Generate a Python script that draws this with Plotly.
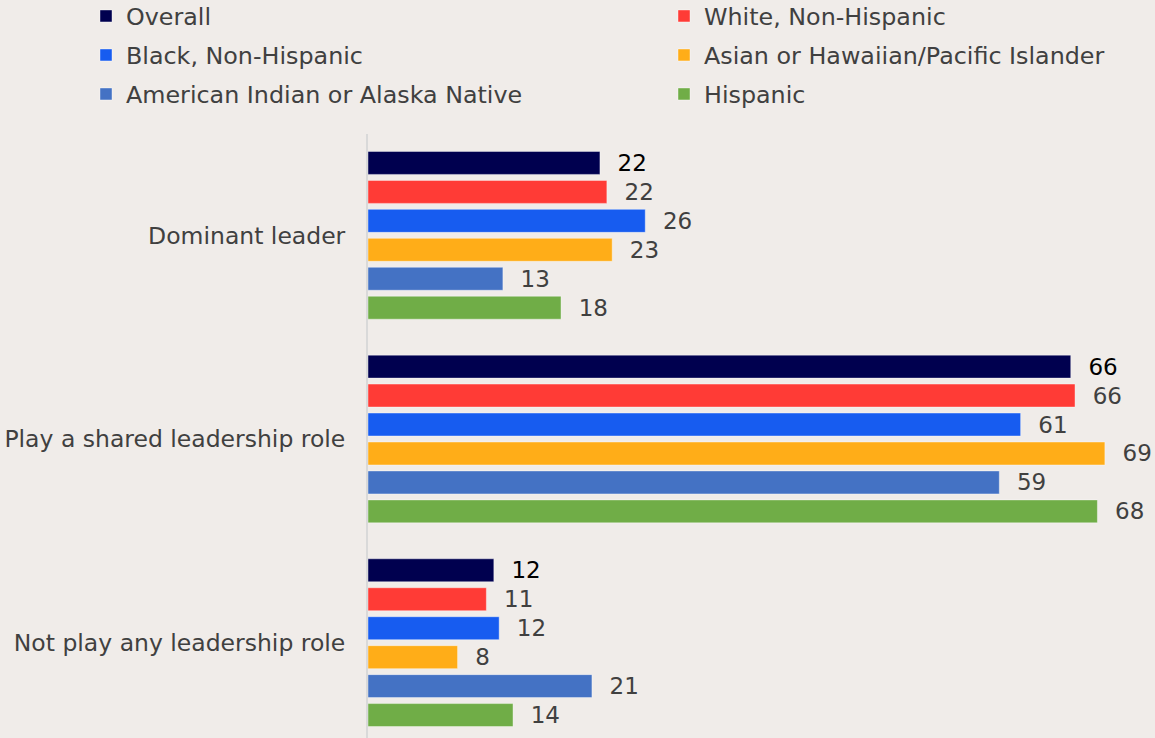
import plotly.graph_objects as go

categories = ["Dominant leader", "Play a shared leadership role", "Not play any leadership role"]
series_names = ["Overall", "White, Non-Hispanic", "Black, Non-Hispanic",
                "Asian or Hawaiian/Pacific Islander", "American Indian or Alaska Native", "Hispanic"]
colors = ["#00004F", "#FF3B36", "#175CF0", "#FFAD18", "#4472C4", "#70AD47"]

overall = [21.75, 65.9, 11.8]
white = [22.4, 66.3, 11.1]
black = [26.0, 61.2, 12.3]
asian = [22.9, 69.1, 8.4]
aian = [12.65, 59.2, 21.0]
hispanic = [18.1, 68.4, 13.6]
labels = [
    ["22", "66", "12"],
    ["22", "66", "11"],
    ["26", "61", "12"],
    ["23", "69", "8"],
    ["13", "59", "21"],
    ["18", "68", "14"],
]
values = [overall, white, black, asian, aian, hispanic]

BG = "#F0ECE9"
FONT = "DejaVu Sans"
FS = 23
GREY = "#404040"

W, H = 1155, 738
L, T = 368, 134
plot_w = W - L
plot_h = H - T

# legend placement (pixel targets of legend item start, row centers)
leg_x_px = [86, 664, 86, 664, 86, 664]
leg_y_px = [16, 16, 55, 55, 94, 94]
legend_ids = ["legend"] + ["legend%d" % (i + 1) for i in range(1, 6)]

fig = go.Figure()
for i, (name, vals) in enumerate(zip(series_names, values)):
    fig.add_trace(go.Bar(
        y=categories, x=vals, orientation="h", name=name,
        marker=dict(color=colors[i], line=dict(color="rgba(255,255,255,0.5)", width=0.8)),
        text=["\u00a0\u00a0" + t for t in labels[i]], textposition="outside",
        constraintext="none",
        textfont=dict(family=FONT, size=FS, color="#000000" if i == 0 else GREY),
        cliponaxis=False, showlegend=True,
        legend=legend_ids[i],
    ))

legends = {}
for i, lid in enumerate(legend_ids):
    legends[lid] = dict(
        orientation="h", x=(leg_x_px[i] - L) / plot_w, xanchor="left",
        y=1 + (T - leg_y_px[i]) / plot_h, yanchor="middle",
        font=dict(family=FONT, size=23.8, color=GREY), bgcolor="rgba(0,0,0,0)",
        borderwidth=0,
    )

fig.update_layout(
    width=W, height=H,
    margin=dict(l=L, r=0, t=T, b=0, autoexpand=False),
    paper_bgcolor=BG, plot_bgcolor=BG,
    showlegend=True,
    barmode="group", bargap=0.147, bargroupgap=0.207,
    font=dict(family=FONT, size=FS, color=GREY),
    xaxis=dict(range=[0, 73.8], showgrid=False, zeroline=False, showticklabels=False, showline=False),
    yaxis=dict(type="category", range=[2.468, -0.4975], showgrid=False, zeroline=False,
               showline=True, linecolor="#D9D9D9", linewidth=2,
               ticklabelstandoff=16, tickfont=dict(family=FONT, size=23.5, color=GREY)),
    **legends,
)

fig.write_html("out.html")
